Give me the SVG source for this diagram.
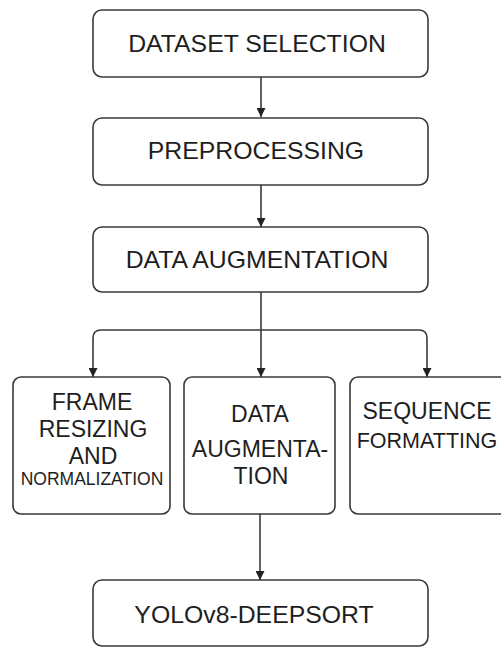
<svg xmlns="http://www.w3.org/2000/svg" width="501" height="648" viewBox="0 0 501 648">
  <style>
    .box { fill: #ffffff; stroke: #3a3a3a; stroke-width: 1.6; }
    .edge { fill: none; stroke: #3a3a3a; stroke-width: 1.6; }
    .t { font-family: "Liberation Sans", Arial, sans-serif; fill: #1e1e1e; text-anchor: middle; }
    .big { font-size: 24.8px; }
    .mid { font-size: 23px; }
    .small { font-size: 17.5px; }
  </style>
  <defs>
    <marker id="arrow" viewBox="0 0 10 10" refX="10" refY="5" markerWidth="9" markerHeight="9" markerUnits="userSpaceOnUse" orient="auto">
      <path d="M0,0 L10,5 L0,10 Z" fill="#222222"/>
    </marker>
  </defs>
  <rect width="501" height="648" fill="#ffffff"/>

  <g id="connectors">
    <line class="edge" x1="261" y1="77" x2="261" y2="117" marker-end="url(#arrow)"/>
    <line class="edge" x1="261" y1="185" x2="261" y2="227" marker-end="url(#arrow)"/>
    <line class="edge" x1="261" y1="292" x2="261" y2="377" marker-end="url(#arrow)"/>
    <path class="edge" d="M261,330 H101 Q93,330 93,338 V377" marker-end="url(#arrow)"/>
    <path class="edge" d="M261,330 H419 Q427,330 427,338 V377" marker-end="url(#arrow)"/>
    <line class="edge" x1="260" y1="514" x2="260" y2="580" marker-end="url(#arrow)"/>
  </g>

  <g id="dataset-selection">
    <rect class="box" x="93" y="10" width="335" height="67" rx="9"/>
    <text class="t big" x="257" y="52">DATASET SELECTION</text>
  </g>

  <g id="preprocessing">
    <rect class="box" x="93" y="118" width="335" height="67" rx="9"/>
    <text class="t big" x="256" y="159">PREPROCESSING</text>
  </g>

  <g id="data-augmentation">
    <rect class="box" x="93" y="227" width="335" height="65" rx="9"/>
    <text class="t big" x="257" y="268">DATA AUGMENTATION</text>
  </g>

  <g id="frame-resizing">
    <rect class="box" x="13" y="377" width="157" height="137" rx="8"/>
    <text class="t mid" x="92" y="410">FRAME</text>
    <text class="t mid" x="93" y="437">RESIZING</text>
    <text class="t mid" x="93" y="464">AND</text>
    <text class="t small" x="92" y="485">NORMALIZATION</text>
  </g>

  <g id="data-augmentation-2">
    <rect class="box" x="184" y="377" width="151" height="137" rx="8"/>
    <text class="t mid" x="260" y="422">DATA</text>
    <text class="t mid" x="260" y="457">AUGMENTA-</text>
    <text class="t mid" x="261" y="484">TION</text>
  </g>

  <g id="sequence-formatting">
    <rect class="box" x="350" y="377" width="160" height="137" rx="8"/>
    <text class="t mid" x="427" y="419">SEQUENCE</text>
    <text class="t" x="427" y="448" font-size="21.5">FORMATTING</text>
  </g>

  <g id="yolov8-deepsort">
    <rect class="box" x="93" y="580" width="335" height="66" rx="9"/>
    <text class="t big" x="254" y="623">YOLOv8-DEEPSORT</text>
  </g>
</svg>
